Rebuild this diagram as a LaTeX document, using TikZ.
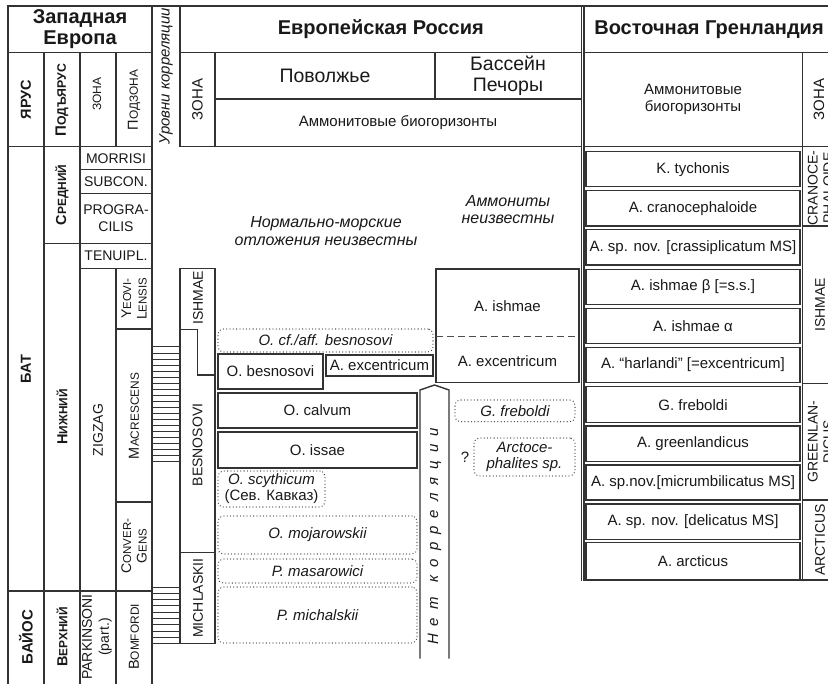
\documentclass[tikz,border=0pt]{standalone}
\usepackage{fontspec}
\setmainfont{Liberation Sans}
\usetikzlibrary{fit}
\makeatletter
\newcommand\smc[2]{#1{\edef\smcsz{\strip@pt\dimexpr0.82\dimexpr\f@size pt\relax\relax}\fontsize{\smcsz}{\smcsz}\selectfont #2}}
\makeatother
\newcommand\lsp{\hspace{8pt}}
\begin{document}
\begin{tikzpicture}[x=1pt,y=-1pt,
 ln/.style={line width=1.2pt,draw=black!80,line cap=rect},
 txt/.style={inner sep=0pt,text=black!90,align=center},
 hb/.style={txt,font=\fontsize{20}{21}\selectfont\bfseries},
 t20/.style={txt,font=\fontsize{19.5}{20.5}\selectfont},
 t15/.style={txt,font=\fontsize{15}{17.5}\selectfont},
 t14/.style={txt,font=\fontsize{14}{15.5}\selectfont},
 b14/.style={txt,font=\fontsize{14.5}{16}\selectfont\bfseries},
 it16/.style={txt,font=\fontsize{16}{17.5}\selectfont\itshape},
 it15/.style={txt,font=\fontsize{15}{16}\selectfont\itshape},
 rot/.style={rotate=90},
 sbox/.style={draw=black!80,line width=1.5pt,inner sep=0pt},
 dbox/.style={draw=black!75,line width=1.3pt,dash pattern=on 0pt off 3.3pt,line cap=round,rounded corners=5pt,inner sep=0pt},
 dline/.style={draw=black!70,line width=1.3pt,dash pattern=on 7pt off 4pt}]
\useasboundingbox (0,0) rectangle (828,684);
\clip (0,0) rectangle (828,684);
\fill[white] (0,0) rectangle (828,684);

% ---------- grid: Western Europe ----------
\draw[ln] (8,6) -- (828,6);
\draw[ln] (8,6) -- (8,684);
\draw[ln] (8,52.7) -- (152,52.7);
\draw[ln] (8,146.7) -- (152,146.7);
\draw[ln] (44,52.7) -- (44,684);
\draw[ln] (80,52.7) -- (80,684);
\draw[ln] (116,52.7) -- (116,146.7);
\draw[ln] (116,268.3) -- (116,684);
\draw[ln] (152,6) -- (152,684);
\draw[ln] (180,6) -- (180,146.7);
\draw[ln] (44,243.3) -- (152,243.3);
\draw[ln] (80,169.3) -- (152,169.3);
\draw[ln] (80,193.3) -- (152,193.3);
\draw[ln] (80,268.3) -- (152,268.3);
\draw[ln] (116,329) -- (152,329);
\draw[ln,line width=1.8pt] (116,502.3) -- (152,502.3);
\draw[ln] (8,591) -- (152,591);

% correlation levels (hatched)
\foreach \k in {0,...,19} \draw[ln,line width=1pt] (152,347+\k*6.05) -- (180,347+\k*6.05);
\foreach \k in {0,...,9} \draw[ln,line width=1pt] (152,587+\k*6.3) -- (180,587+\k*6.3);

% ---------- grid: European Russia ----------
\draw[ln] (180,52.7) -- (581.7,52.7);
\draw[ln] (180,146.7) -- (581.7,146.7);
\draw[ln] (215,52.7) -- (215,146.7);
\draw[ln] (435,52.7) -- (435,99);
\draw[ln] (215,99) -- (581.7,99);
\draw[ln] (581.7,6) -- (581.7,580);
% zone column
\draw[ln] (180,268.3) -- (215,268.3);
\draw[ln] (180,268.3) -- (180,643.3);
\draw[ln] (215,268.3) -- (215,643.3);
\draw[ln] (180,329.3) -- (197.5,329.3) -- (197.5,375) -- (215,375);
\draw[ln] (180,552.7) -- (215,552.7);
\draw[ln] (180,643.3) -- (215,643.3);

% ---------- grid: East Greenland ----------
\draw[ln] (584,6) -- (584,580);
\draw[ln] (584,52.7) -- (828,52.7);
\draw[ln] (584,146.7) -- (828,146.7);
\draw[ln] (802.7,52.7) -- (802.7,580);
\draw[ln] (584,580) -- (828,580);
\draw[ln] (802.7,226) -- (828,226);
\draw[ln] (802.7,383.3) -- (828,383.3);
\draw[ln] (802.7,500) -- (828,500);

% ---------- header texts ----------
\node[hb] (hwe) at (80,29.3) {Западная\\Европа};
\node[hb] (her) at (380.8,29.3) {Европейская Россия};
\node[hb] (heg) at (709,29.3) {Восточная Гренландия};
\node[b14,rot] (hyar) at (26,99.7) {ЯРУС};
\node[b14,rot,font=\fontsize{15}{16}\selectfont\bfseries] (hpod) at (62,100) {\smc{П}{ОДЪЯРУС}};
\node[txt,rot,font=\fontsize{12}{13}\selectfont] (hzon) at (97,94) {ЗОНА};
\node[t14,rot,font=\fontsize{14.5}{16}\selectfont] (hpzon) at (134,100) {\smc{П}{ОДЗОНА}};
\node[txt,rot,font=\fontsize{15}{16}\selectfont\itshape] (hlev) at (166,76) {Уровни корреляции};
\node[t15,rot] (hzer) at (197.5,99.7) {ЗОНА};
\node[t20] (hpov) at (325,76) {Поволжье};
\node[t20] (hpech) at (508,75.9) {Бассейн\\Печоры};
\node[t15] (hamer) at (398,123) {Аммонитовые биогоризонты};
\node[t15] (hameg) at (693,99.5) {Аммонитовые\\биогоризонты};
\node[t15,rot] (hzeg) at (819,99.7) {ЗОНА};

% ---------- Western Europe body ----------
\node[b14,rot] (bat) at (26,369) {БАТ};
\node[b14,rot,font=\fontsize{15}{16}\selectfont\bfseries] (bay) at (26,637) {БАЙОС};
\node[b14,rot] (sred) at (62,195) {\smc{С}{РЕДНИЙ}};
\node[b14,rot] (nizh) at (62,417) {\smc{Н}{ИЖНИЙ}};
\node[b14,rot] (verh) at (62,637) {\smc{В}{ЕРХНИЙ}};
\node[t14] (zmor) at (116,158.3) {MORRISI};
\node[t14] (zsub) at (116,181.3) {SUBCON.};
\node[t14,font=\fontsize{14}{16.5}\selectfont] (zpro) at (116,218.3) {PROGRA-\\CILIS};
\node[t14] (zten) at (116,255.8) {TENUIPL.};
\node[t14,rot] (zzig) at (98,430) {ZIGZAG};
\node[t14,rot,font=\fontsize{14}{17}\selectfont] (zpar) at (97,637) {PARKINSONI\\(part.)};
\node[t14,rot,font=\fontsize{14}{15.5}\selectfont] (zyeo) at (134,298.7) {\smc{Y}{EOVI-}\\\smc{L}{ENSIS}};
\node[t14,rot,font=\fontsize{14.5}{16}\selectfont] (zmac) at (134,416) {\smc{M}{ACRESCENS}};
\node[t14,rot,font=\fontsize{14}{15.5}\selectfont] (zcon) at (134,546) {\smc{C}{ONVER-}\\\smc{G}{ENS}};
\node[t14,rot,font=\fontsize{14.5}{16}\selectfont] (zbom) at (134,637) {\smc{B}{OMFORDI}};

% ---------- European Russia body ----------
\node[t14,rot] (zish) at (198,298) {ISHMAE};
\node[t14,rot] (zbes) at (197.5,445) {BESNOSOVI};
\node[t14,rot] (zmic) at (198,598) {MICHLASKII};

\node[it16] (nmor) at (326,231) {Нормально-морские\\отложения неизвестны};
\node[it16] (nam) at (508,209.5) {Аммониты\\неизвестны};

\node[dbox,fit={(218,329)(433,352)}] (ocf) {};
\node[it15] at (ocf.center) {O. cf./aff. besnosovi};
\node[sbox,fit={(218,354)(323,389)}] (obes) {};
\node[t15] at (obes.center) {O. besnosovi};
\node[sbox,fit={(326,355)(433,376)}] (aexc) {};
\node[t15] at (aexc.center) {A. excentricum};
\node[sbox,fit={(218,393)(417,428)}] (ocal) {};
\node[t15] at (ocal.center) {O. calvum};
\node[sbox,fit={(218,432)(417,468)}] (oiss) {};
\node[t15] at (oiss.center) {O. issae};
\node[dbox,fit={(218,471)(325,507)}] (oscy) {};
\node[it15] at (oscy.center) {O. scythicum\\\upshape(Сев. Кавказ)};
\node[dbox,fit={(218,516)(417,554)}] (omoj) {};
\node[it15] at (omoj.center) {O. mojarowskii};
\node[dbox,fit={(218,559)(417,583)}] (pmas) {};
\node[it15] at (pmas.center) {P. masarowici};
\node[dbox,fit={(218,587)(417,643)}] (pmic) {};
\node[it15] at (pmic.center) {P. michalskii};

% no-correlation column
\draw[ln,line width=1.4pt] (420,658) -- (420,390) -- (434.5,385) -- (449,390) -- (449,658);
\node[txt,rot,font=\fontsize{15}{16}\selectfont\itshape] (netk) at (434.5,536.5)
  {Н\lsp е\lsp т\hspace{15pt}к\lsp о\lsp р\lsp р\lsp е\lsp л\lsp я\lsp ц\lsp и\lsp и};

% Pechora
\node[sbox,fit={(436,269)(579,382.7)}] (pech) {};
\coordinate (dl) at (436,336.7);
\coordinate (dr) at (579,336.7);
\draw[dline] (dl) -- (dr);
\node[t15] (pish) at (507.5,305.7) {A. ishmae};
\node[t15] (pexc) at (507.5,360.7) {A. excentricum};
\node[dbox,fit={(455,400)(575,421.7)}] (gfre) {};
\node[it15] at (gfre.center) {G. freboldi};
\node[dbox,fit={(474,438)(575,476)}] (arct) {};
\node[it15,font=\fontsize{15}{15.5}\selectfont\itshape] at (arct.center) {Arctoce-\\phalites sp.};
\node[t15] (q) at (465,457) {?};

% ---------- East Greenland body ----------
\foreach \i/\ya/\yb/\txt in {
 1/151.7/186.7/{K. tychonis},
 2/190.7/226/{A. cranocephaloide},
 3/229.3/265/{A. sp. nov. [crassiplicatum MS]},
 4/269.3/304.3/{A. ishmae β [=s.s.]},
 5/308.3/343.3/{A. ishmae α},
 6/347.3/382.7/{A. “harlandi” [=excentricum]},
 7/386.7/422.7/{G. freboldi},
 8/426/461.7/{A. greenlandicus},
 9/465/500/{A. sp.nov.[micrumbilicatus MS]},
 10/504/539.3/{A. sp. nov. [delicatus MS]},
 11/542.7/579.3/{A. arcticus}}
 { \node[sbox,fit={(586,\ya)(800,\yb)}] (g\i) {};
   \node[t15] at (g\i.center) {\txt}; }

\node[t14,rot] (gzcr) at (820.5,188) {CRANOCE-\\PHALOIDE};
\node[t14,rot] (gzis) at (820,305) {ISHMAE};
\node[t14,rot] (gzgr) at (820.5,441.5) {GREENLAN-\\DICUS};
\node[t14,rot] (gzar) at (820,540) {ARCTICUS};
\end{tikzpicture}
\end{document}
